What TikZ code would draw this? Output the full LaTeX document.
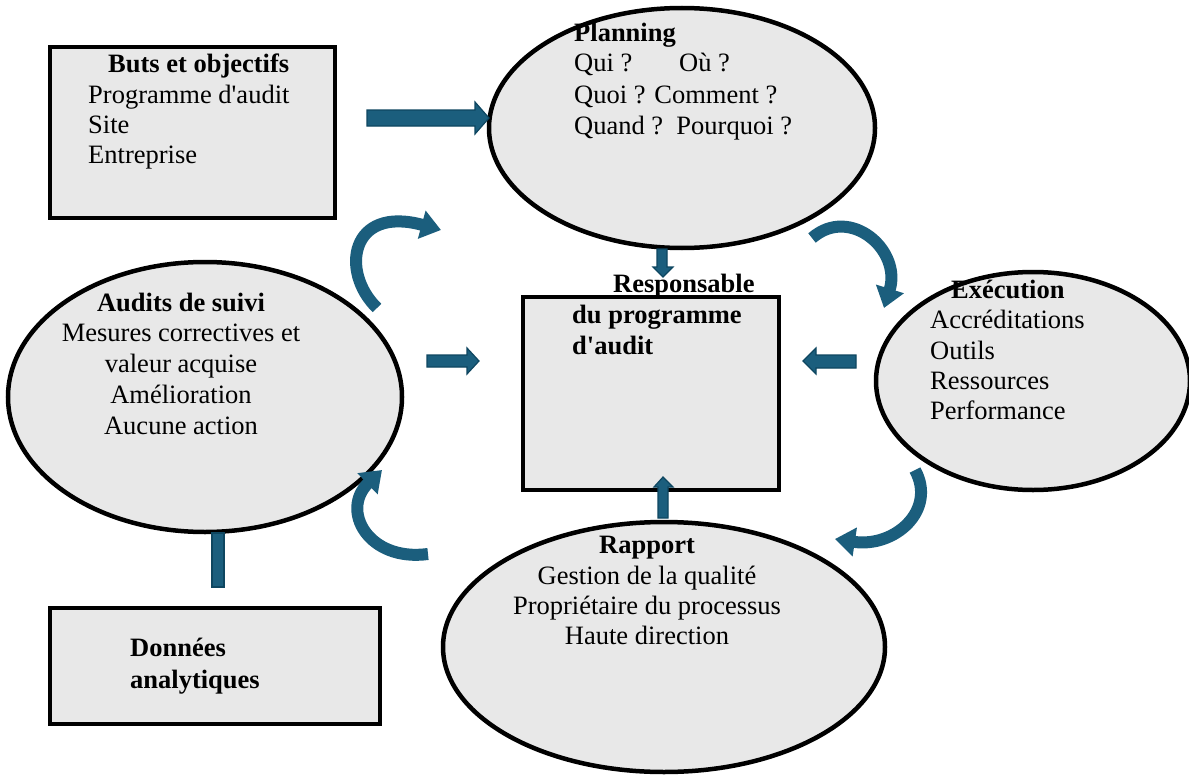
\documentclass[tikz,border=0pt]{standalone}
\usepackage{fontspec}
\setmainfont{Liberation Serif}
\usetikzlibrary{arrows.meta,shapes.geometric}
\definecolor{arrowfill}{RGB}{27,94,125}
\definecolor{arrowline}{RGB}{14,70,96}
\definecolor{shapefill}{RGB}{232,232,232}
\begin{document}
\begin{tikzpicture}[x=1pt,y=-1pt,
  shapebox/.style={draw=black, line width=4.5pt, fill=shapefill, inner sep=0pt},
  oval/.style={shapebox, ellipse},
  box/.style={shapebox, rectangle},
  txt/.style={anchor=base west, inner sep=0pt, font=\fontsize{26.5}{30}\selectfont},
  txtc/.style={anchor=base, inner sep=0pt, font=\fontsize{26.5}{30}\selectfont},
  btxt/.style={txt, font=\fontsize{26.5}{30}\selectfont\bfseries},
  btxtc/.style={txtc, font=\fontsize{26.5}{30}\selectfont\bfseries},
  blockarrow/.style={fill=arrowfill, draw=arrowline, line width=1.2pt, line join=miter},
  curvearrow/.style={draw=arrowfill, line width=12pt, -{Triangle[width=28pt,length=20pt]}}
]
\useasboundingbox[fill=white] (0,0) rectangle (1189,776);

% shapes
\node[box, minimum width=285pt, minimum height=171pt] (buts) at (192.5,132.5) {};
\node[oval, minimum width=386pt, minimum height=240pt] (plan) at (682,128) {};
\node[oval, minimum width=394pt, minimum height=270pt] (suivi) at (205,397) {};
\node[oval, minimum width=314pt, minimum height=218pt] (exec) at (1033,381) {};
\node[oval, minimum width=442pt, minimum height=250pt] (rapp) at (664,647) {};
\node[box, minimum width=256pt, minimum height=193pt] (resp) at (651,393.5) {};
\node[box, minimum width=330pt, minimum height=116pt] (donn) at (215,666) {};

% texts: Buts et objectifs
\node[btxt] (t1) at (108,73) {Buts et objectifs};
\node[txt] (t2) at (88,103) {Programme d\textquotesingle audit};
\node[txt] (t3) at (88,133) {Site};
\node[txt] (t4) at (88,163) {Entreprise};
% Planning
\node[btxt] (p1) at (574,42) {Planning};
\node[txt] (p2) at (574,72) {Qui ?};
\node[txt] (p2b) at (679,72) {Où ?};
\node[txt] (p3) at (574,103) {Quoi ? Comment ?};
\node[txt] (p4) at (574,134) {Quand ?\ \ Pourquoi ?};
% Responsable
\node[btxt] (r1) at (613,292) {Responsable};
\node[btxt] (r2) at (572,323) {du programme};
\node[btxt] (r3) at (572,354) {d\textquotesingle audit};
% Audits de suivi
\node[btxtc] (s1) at (181,311) {Audits de suivi};
\node[txtc] (s2) at (181,341) {Mesures correctives et};
\node[txtc] (s3) at (181,372) {valeur acquise};
\node[txtc] (s4) at (181,403) {Amélioration};
\node[txtc] (s5) at (181,434) {Aucune action};
% Execution
\node[btxt] (e1) at (951,298) {Exécution};
\node[txt] (e2) at (930,328) {Accréditations};
\node[txt] (e3) at (930,359) {Outils};
\node[txt] (e4) at (930,389) {Ressources};
\node[txt] (e5) at (930,419) {Performance};
% Rapport
\node[btxtc] (a1) at (647,553) {Rapport};
\node[txtc] (a2) at (647,584) {Gestion de la qualité};
\node[txtc] (a3) at (647,614) {Propriétaire du processus};
\node[txtc] (a4) at (647,644) {Haute direction};
% Donnees
\node[btxt] (d1) at (130,656) {Données};
\node[btxt] (d2) at (130,688) {analytiques};

% block arrows
\draw[blockarrow] (367,110) -- (475,110) -- (475,102) -- (489,118) -- (475,134) -- (475,126) -- (367,126) -- cycle;
\draw[blockarrow] (427,355) -- (467,355) -- (467,348) -- (479,361) -- (467,374) -- (467,367) -- (427,367) -- cycle;
\draw[blockarrow] (856,355) -- (816,355) -- (816,348) -- (803,361) -- (816,374) -- (816,368) -- (856,368) -- cycle;
\draw[blockarrow] (657,249) -- (667,249) -- (667,267) -- (673,267) -- (663,277) -- (653,267) -- (657,267) -- cycle;
\draw[blockarrow] (658,518) -- (668,518) -- (668,487) -- (673,487) -- (663,477) -- (654,487) -- (658,487) -- cycle;
\draw[blockarrow] (212,533) rectangle (224,587);

% curved arrows
\coordinate (c1s) at (377,308); \coordinate (c1e) at (441,230);
\coordinate (c2s) at (812,238); \coordinate (c2e) at (884,308);
\coordinate (c3s) at (915,470); \coordinate (c3e) at (835,539);
\coordinate (c4s) at (428,554); \coordinate (c4e) at (382,470);
\draw[curvearrow] (c1s) .. controls (340,272) and (350,205) .. (c1e);
\draw[curvearrow] (c2s) .. controls (850,205) and (902,250) .. (c2e);
\draw[curvearrow] (c3s) .. controls (937,510) and (895,548) .. (c3e);
\draw[curvearrow] (c4s) .. controls (368,562) and (340,510) .. (c4e);
\end{tikzpicture}
\end{document}
